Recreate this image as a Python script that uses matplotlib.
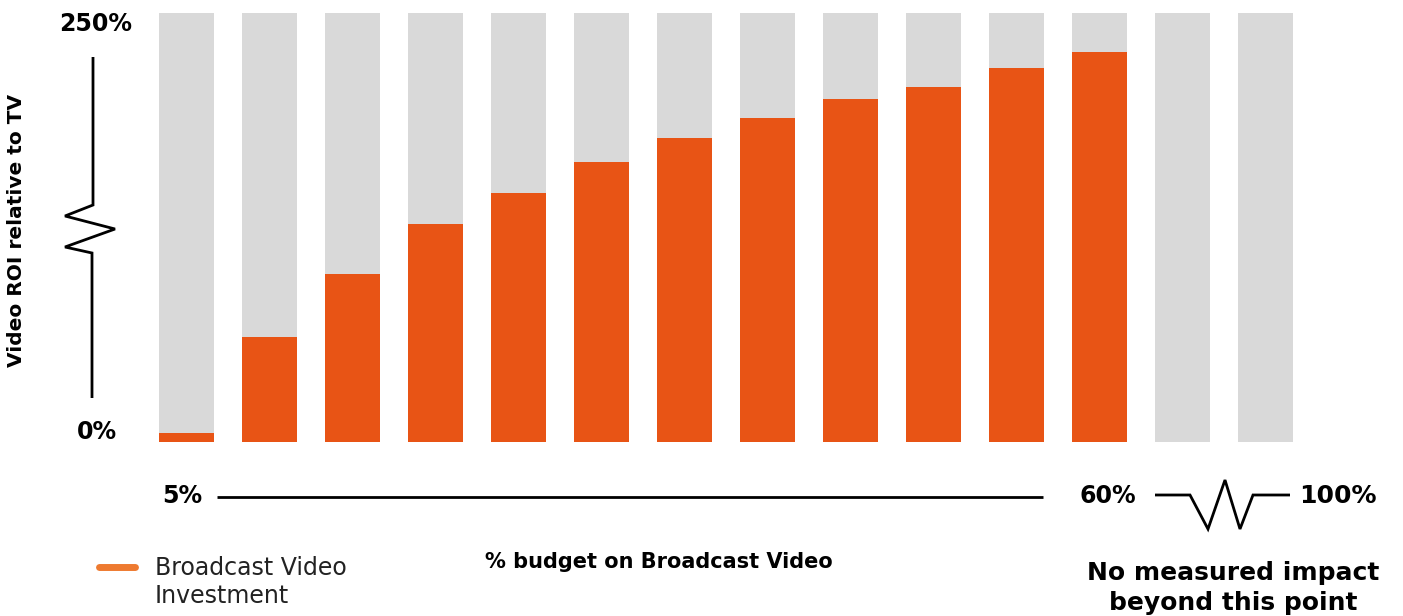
import numpy as np
import matplotlib.pyplot as plt
from matplotlib.lines import Line2D

# data
shares = ['5%', '10%', '15%', '20%', '25%', '30%', '35%', '40%', '45%', '50%',
          '55%', '60%', '80%', '100%']
roi = [5, 61, 98, 127, 145, 163, 177, 189, 200, 207, 218, 227, 0, 0]
roi_max = 250

ORANGE = '#E85415'
GREY = '#D9D9D9'
W, H = 1403, 616

fig = plt.figure(figsize=(W / 100, H / 100), dpi=100)
plt.rcParams['font.family'] = ['DejaVu Sans']


def fx(px):
    return px / W


def fy(py):
    return 1 - py / H


# axes placed so that bars sit where they do in the reference
left, right, top, bottom = 145, 1307, 13, 441.5
ax = fig.add_axes([fx(left), fy(bottom), fx(right) - fx(left), fy(top) - fy(bottom)])
x = np.arange(len(shares))
ax.bar(x, [roi_max] * len(x), width=0.663, color=GREY)
ax.bar(x, roi, width=0.663, color=ORANGE)
ax.set_xlim(-0.5, len(x) - 0.5)
ax.set_ylim(0, roi_max)
ax.axis('off')


def line(xs, ys, lw=2, color='black', cap='butt'):
    fig.add_artist(Line2D([fx(v) for v in xs], [fy(v) for v in ys],
                          transform=fig.transFigure, color=color, lw=lw,
                          solid_joinstyle='miter', solid_capstyle=cap))


# y axis with zigzag
line([93, 93, 65, 115, 65, 92, 92], [57, 205, 216, 229, 247, 253, 398])
fig.text(fx(96), fy(24), '250%', ha='center', va='center', fontsize=17, weight='bold')
fig.text(fx(97), fy(432), '0%', ha='center', va='center', fontsize=17, weight='bold')
fig.text(fx(17), fy(230), 'Video ROI relative to TV', rotation=90, ha='center',
         va='center', fontsize=14.5, weight='bold')

# x axis with zigzag
line([217, 1043], [497, 497])
line([1155, 1190, 1208, 1225, 1240, 1253, 1290], [495, 495, 529, 480, 529, 495, 495])
fig.text(fx(182), fy(496), '5%', ha='center', va='center', fontsize=17, weight='bold')
fig.text(fx(1108), fy(496), '60%', ha='center', va='center', fontsize=17, weight='bold')
fig.text(fx(1338), fy(496), '100%', ha='center', va='center', fontsize=18, weight='bold')
fig.text(fx(659), fy(562), '% budget on Broadcast Video', ha='center', va='center',
         fontsize=15, weight='bold')
fig.text(fx(1233), fy(588), 'No measured impact\nbeyond this point', ha='center',
         va='center', fontsize=18, weight='bold', linespacing=1.35)

# legend
line([99, 135], [567, 567], lw=5, color='#EE7A30', cap='round')
fig.text(fx(155), fy(582), 'Broadcast Video\nInvestment', ha='left', va='center',
         fontsize=17, color='#222222', linespacing=1.2)

fig.savefig('out.png', dpi=100)
